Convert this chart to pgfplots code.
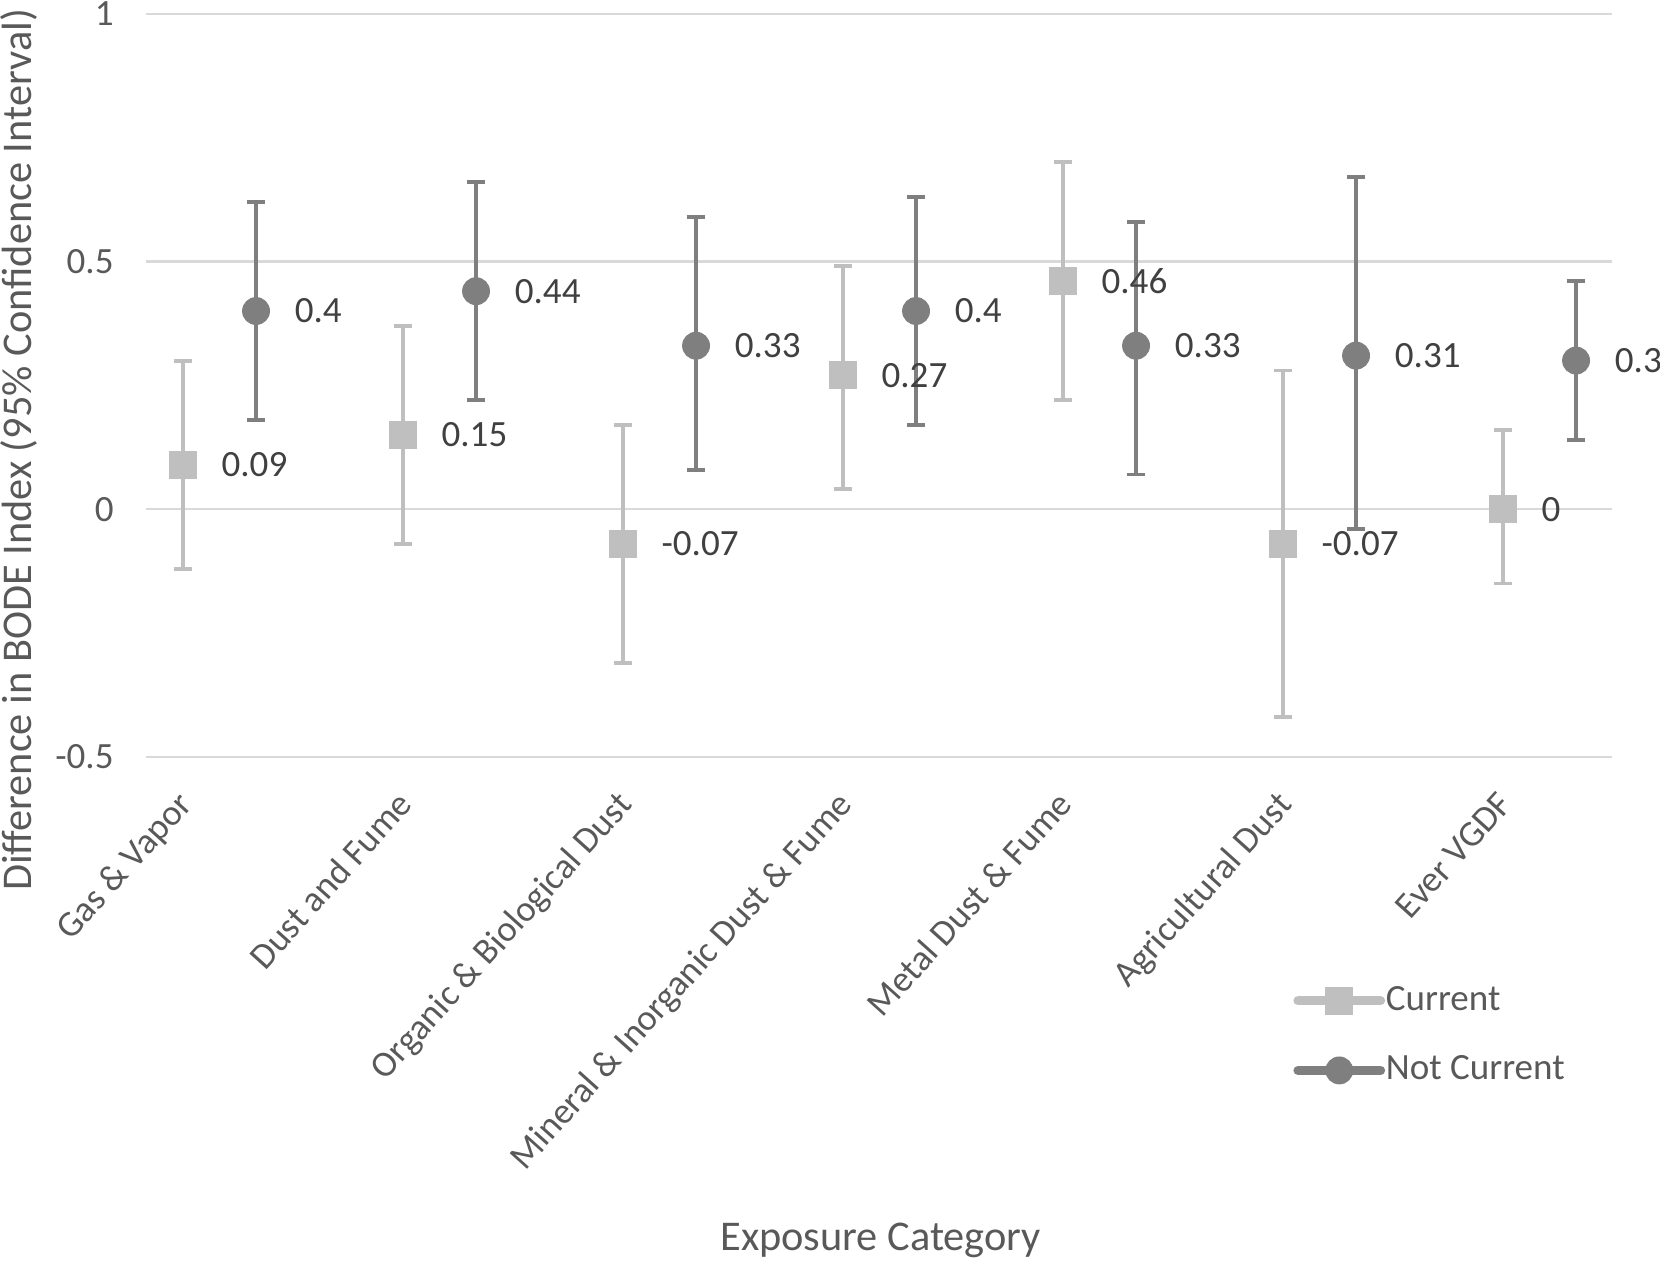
\documentclass[border=0pt]{standalone}
\usepackage{pgfplots}
\pgfplotsset{compat=1.18}
\usepackage{pgfplotstable}
\usepackage{fontspec}
\setmainfont{Carlito}

\definecolor{curgray}{HTML}{BFBFBF}
\definecolor{notgray}{HTML}{7F7F7F}
\definecolor{gridgray}{HTML}{D9D9D9}
\definecolor{txtgray}{HTML}{595959}
\definecolor{lblgray}{HTML}{404040}

% x = category index (Current shifted left), y = difference, lo/hi = 95% CI
\pgfplotstableread{
x      y     lo     hi    lab
-0.333 0.09  -0.12  0.30  0.09
0.667  0.15  -0.07  0.37  0.15
1.667  -0.07 -0.31  0.17  -0.07
2.667  0.27  0.04   0.49  0.27
3.667  0.46  0.22   0.70  0.46
4.667  -0.07 -0.42  0.28  -0.07
5.667  0     -0.15  0.16  0
}\current

\pgfplotstableread{
x  y     lo     hi    lab
0  0.40  0.18   0.62  0.4
1  0.44  0.22   0.66  0.44
2  0.33  0.08   0.59  0.33
3  0.40  0.17   0.63  0.4
4  0.33  0.07   0.58  0.33
5  0.31  -0.04  0.67  0.31
6  0.30  0.14   0.46  0.3
}\notcurrent

\newcommand{\chartfont}{\fontsize{10.5}{12}\selectfont}
\newcommand{\tickfont}{\fontsize{10.3}{12}\selectfont}
\newcommand{\titlefont}{\fontsize{12}{14}\selectfont}

\begin{document}
\begin{tikzpicture}
\begin{axis}[
    scale only axis,
    width=415.5pt, height=210.6pt,
    xmin=-0.5, xmax=6.165,
    ymin=-0.5, ymax=1,
    clip=false,
    axis line style={draw=none},
    major tick length=0pt,
    ytick={-0.5,0,0.5,1},
    yticklabels={-0.5,0,0.5,1},
    ymajorgrids,
    grid style={gridgray, line width=0.6pt},
    xtick={-0.31,0.69,1.69,2.69,3.69,4.69,5.69},
    xticklabels={Gas \& Vapor, Dust and Fume, Organic \& Biological Dust,
        Mineral \& Inorganic Dust \& Fume, Metal Dust \& Fume,
        Agricultural Dust, Ever VGDF},
    xticklabel style={yshift=-12pt, rotate=48, anchor=east, font=\tickfont,
        text=txtgray, inner sep=0pt, text height=0.7em, text depth=0.2em},
    yticklabel style={font=\chartfont, text=txtgray, inner sep=0pt, xshift=-9pt},
    xlabel={Exposure Category},
    ylabel={Difference in BODE Index (95\% Confidence Interval)},
    xlabel style={font=\titlefont, text=txtgray, at={(rel axis cs:0.501,-0.651)}, anchor=center},
    ylabel style={font=\titlefont, text=txtgray, at={(rel axis cs:-0.0866,0.413)}, anchor=center, rotate=0},
    legend style={at={(rel axis cs:0.782,-0.375)}, anchor=west, draw=none, fill=none,
        font=\chartfont, text=txtgray, row sep=11.4pt, inner sep=0pt,
        nodes={inner sep=0pt}},
    legend cell align=left,
    legend image code/.code={
        \draw[#1, sharp plot, line width=2.6pt, line cap=round, mark=none] (0pt,0pt) -- (23.4pt,0pt);
        \draw[#1, only marks] plot coordinates {(11.7pt,0pt)};
    },
    /tikz/every odd column/.append style={column sep=0.2pt},
    nodes near coords align={anchor=west},
    every node near coord/.append style={font=\chartfont, text=lblgray, anchor=west,
        inner sep=0pt, xshift=10.8pt},
]
\addplot+[only marks, point meta=explicit symbolic, nodes near coords,
    color=curgray, mark=square*, mark size=3.75pt,
    mark options={draw=curgray, fill=curgray, rounded corners=0.6pt},
    error bars/.cd, y dir=both, y explicit,
    error bar style={line width=1.1pt, curgray},
    error mark options={rotate=90, mark size=2.55pt, line width=1.1pt, curgray}]
    table[x=x, y=y, meta=lab,
        y error plus expr=\thisrow{hi}-\thisrow{y},
        y error minus expr=\thisrow{y}-\thisrow{lo}] {\current};
\addplot+[only marks, point meta=explicit symbolic, nodes near coords,
    color=notgray, mark=*, mark size=3.75pt, mark options={draw=notgray, fill=notgray},
    error bars/.cd, y dir=both, y explicit,
    error bar style={line width=1.1pt, notgray},
    error mark options={rotate=90, mark size=2.55pt, line width=1.1pt, notgray}]
    table[x=x, y=y, meta=lab,
        y error plus expr=\thisrow{hi}-\thisrow{y},
        y error minus expr=\thisrow{y}-\thisrow{lo}] {\notcurrent};
\legend{Current, Not Current}
\coordinate (bl) at (rel axis cs:-0.0996,-0.678);
\coordinate (tr) at (rel axis cs:1.0325,1.0185);
\end{axis}
\pgfresetboundingbox
\path[use as bounding box] (bl) rectangle (tr);
\end{tikzpicture}
\end{document}
